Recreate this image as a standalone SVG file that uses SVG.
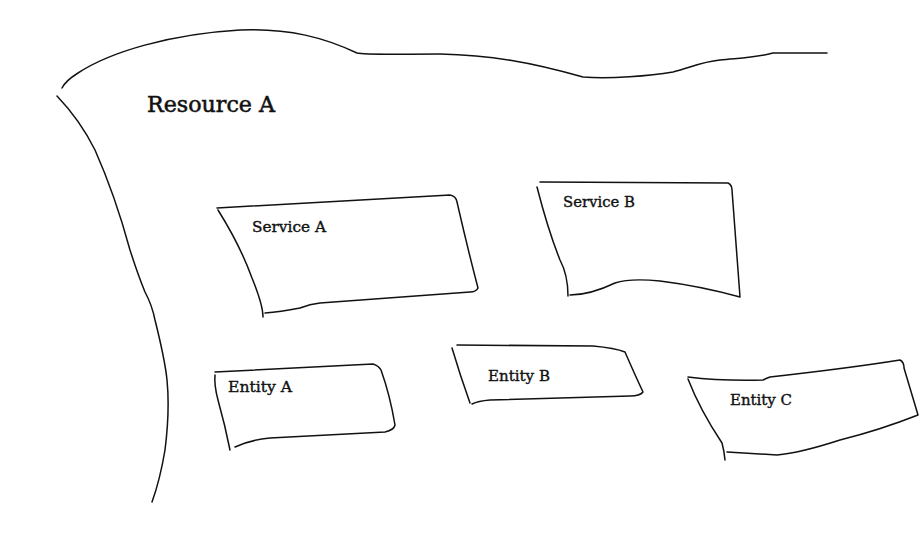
<svg xmlns="http://www.w3.org/2000/svg" width="920" height="534" viewBox="0 0 920 534">
<style>
.s{fill:none;stroke:#111;stroke-width:1.5;stroke-linecap:round;stroke-linejoin:round}
.t{font-family:"DejaVu Serif Condensed","DejaVu Serif","Liberation Serif",serif;fill:#111;stroke:#111;stroke-width:0.35}
.n{font-size:15px}
.big{font-size:22px;stroke-width:0.5}
</style>
<rect width="920" height="534" fill="#fff"/>
<g id="resource-a">
<path class="s" d="M62,88 C64,84 70,78 78,73 C110,52 170,34 240,30 C290,28 325,38 357,53 C365,55 400,54 440,54 C490,55 530,62 583,77 C610,79 650,76 673,72 C690,68 700,62 720,60 C740,58 755,58 773,53 L827,53"/>
<path class="s" d="M57,96 Q80,120 95,150 Q115,195 130,250 Q138,275 145,292 Q152,305 155,320 Q165,360 167,380 Q170,410 165,450 Q160,480 152,502"/>
<text class="t big" x="147" y="112" textLength="128" lengthAdjust="spacingAndGlyphs">Resource A</text>
</g>
<g id="service-a">
<path class="s" d="M217,208 L450,195 Q456,196 457,202 Q468,250 478,288 Q476,292 470,292 L320,303 Q310,304 300,308 Q280,312 265,313"/>
<path class="s" d="M218,210 Q240,245 252,278 Q263,305 263,317"/>
<text class="t n" x="252" y="232" textLength="74" lengthAdjust="spacingAndGlyphs">Service A</text>
</g>
<g id="service-b">
<path class="s" d="M540,182 L728,183 Q732,185 732,190 Q736,245 740,297 Q700,286 660,281 Q630,278 615,283 Q590,295 570,295"/>
<path class="s" d="M537,187 Q548,230 560,260 Q568,275 568,296"/>
<text class="t n" x="563" y="207" textLength="72" lengthAdjust="spacingAndGlyphs">Service B</text>
</g>
<g id="entity-a">
<path class="s" d="M215,372 L373,364 Q379,366 381,370 Q390,395 395,425 Q394,430 385,432 L270,438 Q250,440 235,447"/>
<path class="s" d="M215,375 Q214,385 218,400 Q225,425 230,450"/>
<text class="t n" x="228" y="392" textLength="64" lengthAdjust="spacingAndGlyphs">Entity A</text>
</g>
<g id="entity-b">
<path class="s" d="M457,345 L593,346 Q615,348 625,352 Q635,375 643,392 Q640,396 630,396 L490,400 Q478,401 472,404"/>
<path class="s" d="M452,348 Q460,375 470,403"/>
<text class="t n" x="488" y="381" textLength="62" lengthAdjust="spacingAndGlyphs">Entity B</text>
</g>
<g id="entity-c">
<path class="s" d="M688,377 Q720,381 763,380 Q767,378 770,377 Q850,368 900,360 Q904,362 904,368 Q912,395 918,415 Q880,430 840,440 Q800,453 777,455 L727,452"/>
<path class="s" d="M688,379 Q700,410 722,443 Q724,450 725,460"/>
<text class="t n" x="730" y="405" textLength="62" lengthAdjust="spacingAndGlyphs">Entity C</text>
</g>
<g id="connectors"></g>
</svg>
